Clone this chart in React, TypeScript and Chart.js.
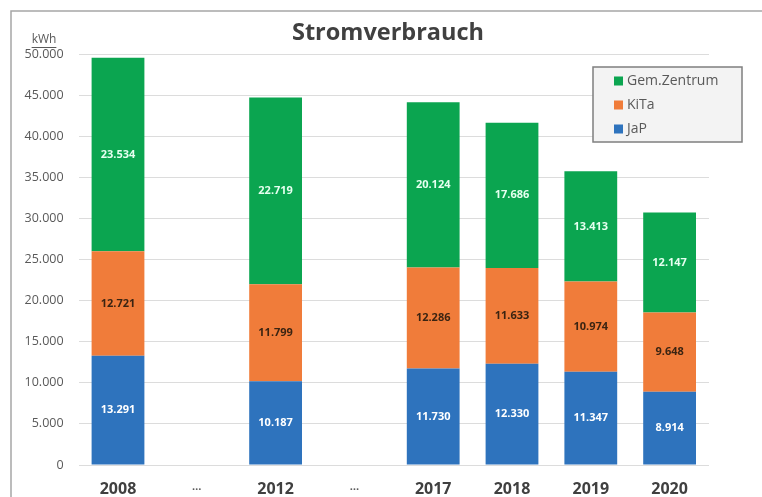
import React, { useEffect, useRef } from "react";
import { Chart, registerables } from "chart.js";

Chart.register(...registerables);

const categories = ["2008", "…", "2012", "…", "2017", "2018", "2019", "2020"];
const japValues = [13291, null, 10187, null, 11730, 12330, 11347, 8914];
const kitaValues = [12721, null, 11799, null, 12286, 11633, 10974, 9648];
const gemValues = [23534, null, 22719, null, 20124, 17686, 13413, 12147];
const seriesNames = ["JaP", "KiTa", "Gem.Zentrum"];
const seriesColors = ["#2E73BD", "#F07C3A", "#0BA550"];
const labelColors = ["#FFFFFF", "#3B2412", "#E6FFF0"];
const yMax = 50000;
const yStep = 5000;
const titleText = "Stromverbrauch";
const unitText = "kWh";

const FONT = "'Open Sans', 'Noto Sans', sans-serif";

const fmt = (v: number) => v.toLocaleString("de-DE");

const overlayPlugin = {
  id: "overlay",
  beforeDraw(chart: any) {
    const ctx = chart.ctx;
    ctx.save();
    ctx.fillStyle = "#ffffff";
    ctx.fillRect(0, 0, chart.width, chart.height);
    ctx.strokeStyle = "#a6a6a6";
    ctx.lineWidth = 1.5;
    ctx.beginPath();
    ctx.moveTo(11, chart.height);
    ctx.lineTo(11, 11);
    ctx.lineTo(chart.width, 11);
    ctx.stroke();
    ctx.restore();
  },
  afterDraw(chart: any) {
    const ctx = chart.ctx;
    ctx.save();
    // title
    ctx.fillStyle = "#404040";
    ctx.font = `bold 23.5px ${FONT}`;
    ctx.textAlign = "center";
    ctx.textBaseline = "middle";
    ctx.fillText(titleText, 388, 33);
    // unit
    ctx.font = `12px ${FONT}`;
    ctx.fillStyle = "#595959";
    ctx.fillText(unitText, 44, 40);
    const w = ctx.measureText(unitText).width;
    ctx.strokeStyle = "#595959";
    ctx.lineWidth = 1;
    ctx.beginPath();
    ctx.moveTo(44 - w / 2, 47.5);
    ctx.lineTo(44 + w / 2, 47.5);
    ctx.stroke();

    // data labels
    ctx.font = `bold 11px ${FONT}`;
    chart.data.datasets.forEach((ds: any, di: number) => {
      const meta = chart.getDatasetMeta(di);
      meta.data.forEach((el: any, i: number) => {
        const v = ds.data[i];
        if (v == null) return;
        const cy = (el.y + el.base) / 2;
        ctx.fillStyle = labelColors[di];
        ctx.fillText(fmt(v), el.x, cy);
      });
    });

    // legend
    const bx = 593, by = 67, bw = 149, bh = 75;
    ctx.fillStyle = "#f3f3f3";
    ctx.fillRect(bx, by, bw, bh);
    ctx.strokeStyle = "#7f7f7f";
    ctx.lineWidth = 1.5;
    ctx.strokeRect(bx, by, bw, bh);
    ctx.font = `14px ${FONT}`;
    ctx.textAlign = "left";
    const rows = [2, 1, 0];
    rows.forEach((di, r) => {
      const cy = 81 + r * 24;
      ctx.fillStyle = seriesColors[di];
      ctx.fillRect(614, cy - 4.5, 9, 9);
      ctx.fillStyle = "#595959";
      ctx.fillText(chart.data.datasets[di].label, 627, cy);
    });
    ctx.restore();
  },
};

export default function App() {
  const ref = useRef<HTMLCanvasElement | null>(null);
  useEffect(() => {
    if (!ref.current) return;
    const data = [japValues, kitaValues, gemValues];
    const chart = new Chart(ref.current, {
      type: "bar",
      data: {
        labels: categories,
        datasets: data.map((d, i) => ({
          label: seriesNames[i],
          data: d,
          backgroundColor: seriesColors[i],
          borderWidth: 0,
          barPercentage: 0.67,
          categoryPercentage: 1,
        })),
      },
      options: {
        animation: false,
        responsive: false,
        maintainAspectRatio: false,
        layout: { padding: { left: 0, top: 54, right: 53, bottom: 0 } },
        plugins: {
          legend: { display: false },
          title: { display: false },
          tooltip: { enabled: false },
        },
        scales: {
          x: {
            stacked: true,
            grid: { display: false, drawTicks: false },
            border: { display: false },
            afterFit: (s: any) => {
              s.height = 32;
            },
            ticks: {
              padding: 15,
              color: (c: any) => (c.tick && c.tick.label === "…" ? "#595959" : "#404040"),
              font: (c: any) =>
                c.tick && c.tick.label === "…"
                  ? { family: FONT, size: 11, weight: "bold" }
                  : { family: FONT, size: 16, weight: "bold" },
            },
          },
          y: {
            stacked: true,
            min: 0,
            max: yMax,
            grid: { color: "#dcdcdc", drawTicks: false, lineWidth: 1 },
            border: { display: false },
            afterFit: (s: any) => {
              s.width = 78.6;
            },
            ticks: {
              stepSize: yStep,
              padding: 15,
              color: "#595959",
              font: { family: FONT, size: 12.5 },
              callback: (v: any) => fmt(Number(v)),
            },
          },
        },
      },
      plugins: [overlayPlugin],
    });
    return () => chart.destroy();
  }, []);
  return (
    <div style={{ position: "fixed", left: 0, top: 0, width: 762, height: 497 }}>
      <canvas ref={ref} width={762} height={497} style={{ width: 762, height: 497 }} />
    </div>
  );
}
